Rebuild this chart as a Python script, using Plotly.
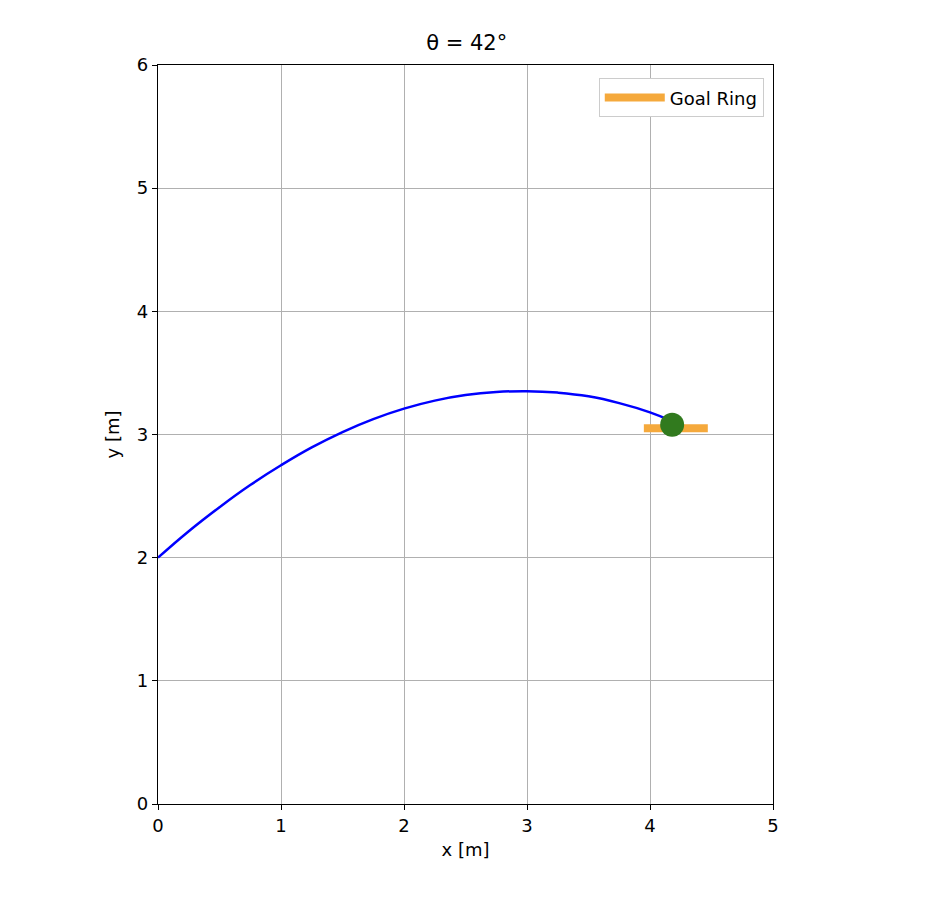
import plotly.graph_objects as go

traj_x = [0.0, 0.25, 0.5, 0.75, 1.0, 1.25, 1.5, 1.75, 2.0, 2.25, 2.5, 2.75, 3.0, 3.25, 3.5, 3.75, 4.0, 4.15]
traj_y = [2.0, 2.215, 2.41, 2.59, 2.75, 2.895, 3.02, 3.125, 3.21, 3.275, 3.32, 3.345, 3.352, 3.34, 3.31, 3.255, 3.18, 3.12]
ring_x = [3.95, 4.47]
ring_y = [3.05, 3.05]
ball_x = [4.18]
ball_y = [3.08]

fig = go.Figure()
fig.add_trace(go.Scatter(x=traj_x, y=traj_y, mode="lines", line=dict(color="blue", width=2.5, shape="spline", smoothing=1.3), showlegend=False))
fig.add_trace(go.Scatter(x=ring_x, y=ring_y, mode="lines", line=dict(color="#F5A93C", width=8), name="Goal Ring"))
fig.add_trace(go.Scatter(x=ball_x, y=ball_y, mode="markers", marker=dict(color="#317A1E", size=24), showlegend=False))

ax = dict(showline=True, linecolor="black", linewidth=1.2, mirror=True, ticks="outside", ticklen=5,
          tickcolor="black", showgrid=True, gridcolor="#b0b0b0", gridwidth=1, zeroline=False,
          tickfont=dict(size=18, color="black"), title_font=dict(size=18, color="black"))
fig.update_layout(
    width=940, height=908, plot_bgcolor="white", paper_bgcolor="white",
    font=dict(family="DejaVu Sans", color="black"),
    margin=dict(l=150, r=175, t=57, b=112),
    title=dict(text="θ = 42°", x=0.488, xanchor="center", y=0.962, yanchor="middle", font=dict(size=21)),
    xaxis=dict(ax, range=[0, 5], dtick=1, title=dict(text="x [m]", standoff=8)),
    yaxis=dict(ax, range=[0, 6], dtick=1, title=dict(text="y [m]", standoff=12)),
    legend=dict(x=0.985, y=0.982, xanchor="right", yanchor="top", bordercolor="#cccccc", borderwidth=1,
                font=dict(size=18), bgcolor="white", itemwidth=60),
)
fig.write_html("out.html")
